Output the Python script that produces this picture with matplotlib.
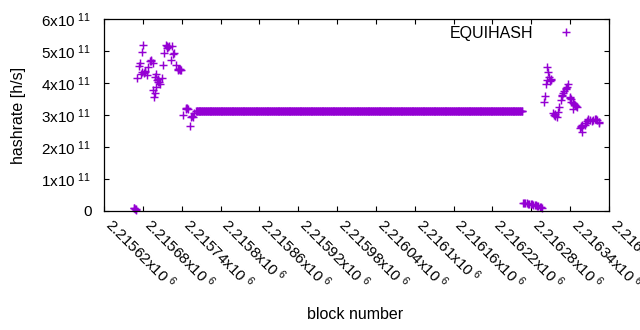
import numpy as np
import matplotlib
matplotlib.use("Agg")
import matplotlib.pyplot as plt

# block numbers and hashrate (in units of 1e11 h/s)
low_left_blocks = [2215666, 2215667, 2215668, 2215669, 2215670]
low_left_vals = [0.10, 0.09, 0.07, 0.05, 0.03]

high_left_blocks = [2215671, 2215674, 2215675, 2215677, 2215678, 2215679, 2215681, 2215682,
                    2215683, 2215684, 2215686, 2215688, 2215691, 2215692, 2215693, 2215695,
                    2215696, 2215697, 2215698, 2215699, 2215700, 2215701, 2215702, 2215703,
                    2215704, 2215705, 2215707, 2215709, 2215711, 2215713, 2215715, 2215717,
                    2215718, 2215719, 2215721, 2215723, 2215725, 2215726, 2215728, 2215731,
                    2215734, 2215735, 2215736, 2215737, 2215738, 2215739, 2215742, 2215746,
                    2215747, 2215748, 2215749, 2215753, 2215755, 2215756, 2215757, 2215759]
high_left_vals = [4.17, 4.53, 4.63, 4.28, 4.98, 4.33, 5.19, 4.30,
                  4.35, 4.38, 4.25, 4.51, 4.68, 4.72, 4.70, 4.62,
                  3.78, 3.55, 4.18, 3.68, 3.87, 4.28, 4.09, 4.02,
                  4.12, 4.04, 3.98, 4.15, 4.56, 4.93, 5.19, 5.10,
                  5.17, 5.13, 5.15, 4.72, 5.16, 4.90, 4.93, 4.56,
                  4.40, 4.45, 4.43, 4.41, 4.44, 4.42, 3.00, 3.19,
                  3.23, 3.21, 3.20, 2.66, 2.93, 2.97, 2.95, 3.05]

# long run of blocks with the same value
flat_first_block = 2215762
flat_last_block = 2216266
flat_val = 3.12

low_right_blocks = [2216267, 2216269, 2216271, 2216273, 2216275, 2216277, 2216279, 2216281,
                    2216283, 2216285, 2216287, 2216289, 2216291, 2216293, 2216295, 2216297]
low_right_vals = [0.25, 0.25, 0.24, 0.24, 0.23, 0.23, 0.22, 0.21,
                  0.20, 0.19, 0.18, 0.16, 0.15, 0.13, 0.11, 0.09]

high_right_blocks = [2216300, 2216301, 2216303, 2216304, 2216305, 2216306, 2216307, 2216309,
                     2216310, 2216311, 2216314, 2216315, 2216316, 2216317, 2216319, 2216321,
                     2216323, 2216326, 2216327, 2216328, 2216329, 2216331, 2216333, 2216334,
                     2216335, 2216337, 2216339, 2216340, 2216341, 2216342, 2216344, 2216345,
                     2216346, 2216347, 2216349, 2216350, 2216355, 2216356, 2216357, 2216358,
                     2216359, 2216363, 2216364, 2216366, 2216367, 2216368, 2216370, 2216373,
                     2216376, 2216378, 2216380, 2216381, 2216384, 2216385]
high_right_vals = [3.40, 3.60, 3.96, 4.09, 4.49, 4.35, 4.20, 4.07,
                   4.09, 4.12, 3.05, 3.00, 3.02, 2.98, 2.95, 3.10,
                   3.24, 3.47, 3.63, 3.58, 3.68, 3.75, 3.82, 3.85,
                   3.87, 3.97, 3.55, 3.52, 3.49, 3.40, 3.18, 3.37,
                   3.33, 3.30, 3.28, 3.26, 2.60, 2.65, 2.63, 2.46,
                   2.68, 2.69, 2.75, 2.80, 2.84, 2.87, 2.85, 2.82,
                   2.84, 2.88, 2.87, 2.83, 2.79, 2.74]

x_ticks = list(range(2215620, 2216401, 60))
y_ticks = [0, 1e11, 2e11, 3e11, 4e11, 5e11, 6e11]

plt.rcParams["font.family"] = ["Liberation Sans", "DejaVu Sans"]
plt.rcParams["mathtext.default"] = "regular"
plt.rcParams["font.size"] = 11

fig = plt.figure(figsize=(6.4, 3.3), dpi=100)
ax = fig.add_axes([104 / 640, 1 - 211 / 330, 505 / 640, 192 / 330])

flat_blocks = np.arange(flat_first_block, flat_last_block + 1)
blocks = np.concatenate([low_left_blocks, high_left_blocks, flat_blocks,
                         low_right_blocks, high_right_blocks])
vals = np.concatenate([low_left_vals, high_left_vals, np.full(len(flat_blocks), flat_val),
                       low_right_vals, high_right_vals]) * 1e11

ax.plot(blocks, vals, linestyle="none", marker="+", markersize=5.8, mew=1.05,
        color="#9400d3", label="EQUIHASH", clip_on=False)

ax.set_xlim(2215620, 2216400)
ax.set_ylim(0, 6e11)

ax.set_xticks(x_ticks)
ax.set_xticklabels(["%gx10$^{\\ 6}$" % (t / 1e6) for t in x_ticks])
for lab in ax.get_xticklabels():
    lab.set_rotation(-45)
    lab.set_ha("left")
    lab.set_va("baseline")
    lab.set_rotation_mode("anchor")

ax.set_yticks(y_ticks)
ax.set_yticklabels(["0"] + ["%dx10$^{\\ 11}$" % (v / 1e11) for v in y_ticks[1:]])

ax.tick_params(direction="in", length=3.3, width=0.8, top=True, right=True,
               labelsize=11, colors="black")
ax.tick_params(axis="y", pad=9)
ax.tick_params(axis="x", pad=10.5)
for s in ax.spines.values():
    s.set_linewidth(0.9)

ax.set_xlabel("block number", fontsize=11.5)
ax.xaxis.set_label_coords(0.497, -0.50)
ax.set_ylabel("hashrate [h/s]", fontsize=11.5)
ax.yaxis.set_label_coords(-0.155, 0.5)

ax.legend(loc="upper right", bbox_to_anchor=(0.947, 0.965), markerfirst=False,
          frameon=False, borderpad=0, borderaxespad=0, handletextpad=1.05,
          handlelength=2, fontsize=11.5, markerscale=1.0)

fig.savefig("out.png", dpi=100)
